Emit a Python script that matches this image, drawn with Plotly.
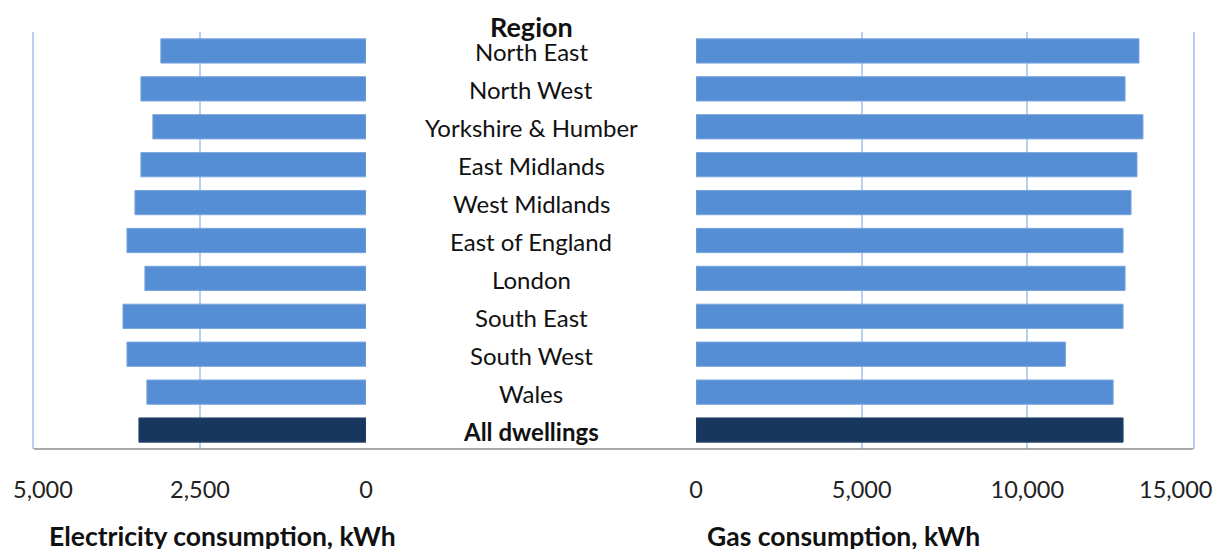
import plotly.graph_objects as go

regions = ["North East", "North West", "Yorkshire & Humber", "East Midlands",
           "West Midlands", "East of England", "London", "South East",
           "South West", "Wales", "All dwellings"]
electricity = [3090, 3390, 3210, 3390, 3480, 3600, 3330, 3660, 3600, 3300, 3420]
gas = [13370, 12950, 13490, 13310, 13130, 12890, 12950, 12890, 11150, 12590, 12890]

elec_ticks = [2500, 0]
gas_ticks = [0, 5000, 10000]
elec_max = 5000
gas_max = 15000

light = "#558ED5"
dark = "#17375E"
colors = [dark if r == "All dwellings" else light for r in regions]
edges = ["#2b4a70" if r == "All dwellings" else "#7aa6de" for r in regions]
grid = "#B9CFF0"
font = "Lato"
tickfont = dict(family=font, size=23.5, color="#222")

# page has an 8px body margin, so the figure is a bit smaller and shifted
OFF = 8
W, H = 1222 - OFF, 549 - OFF


def px(x):
    return (x - OFF) / W


fig = go.Figure()
fig.add_trace(go.Bar(y=regions, x=electricity, orientation="h", xaxis="x", yaxis="y",
                     marker=dict(color=colors, line=dict(color=edges, width=1))))
fig.add_trace(go.Bar(y=regions, x=gas, orientation="h", xaxis="x2", yaxis="y2",
                     marker=dict(color=colors, line=dict(color=edges, width=1))))

axis_common = dict(showgrid=True, gridcolor=grid, gridwidth=1.5, zeroline=False,
                   showline=False, tickformat=",", ticklabelstandoff=24, tickfont=tickfont)
yaxis_common = dict(autorange="reversed", showticklabels=False, showgrid=False, zeroline=False,
                    showline=True, linecolor=grid, linewidth=2)
fig.update_layout(
    width=W, height=H,
    margin=dict(l=0, r=0, t=32 - OFF, b=100, autoexpand=False),
    plot_bgcolor="white", paper_bgcolor="white",
    showlegend=False, bargap=0.36,
    xaxis=dict(domain=[px(34), px(366)], range=[elec_max, 0], tickvals=elec_ticks, **axis_common),
    xaxis2=dict(domain=[px(696), px(1193)], range=[0, gas_max], tickvals=gas_ticks, **axis_common),
    yaxis=dict(anchor="x", side="left", **yaxis_common),
    yaxis2=dict(anchor="x2", side="right", matches="y", **yaxis_common),
)

# outer tick labels, nudged inward like the original so they are not clipped
fig.add_annotation(x=elec_max, xref="x", y=0, yref="paper", yanchor="middle", yshift=-40,
                   xshift=9, text=f"{elec_max:,}", showarrow=False, font=tickfont)
fig.add_annotation(x=gas_max, xref="x2", y=0, yref="paper", yanchor="middle", yshift=-40,
                   xshift=-18, text=f"{gas_max:,}", showarrow=False, font=tickfont)

# region labels in the gap between the panels
for r in regions:
    txt = "<b>%s</b>" % r if r == "All dwellings" else r
    fig.add_annotation(x=px(531), xref="paper", xanchor="center", y=r, yref="y", text=txt,
                       showarrow=False, font=dict(family=font, size=24, color="#111"), yshift=-1)

fig.add_annotation(x=px(531), xref="paper", xanchor="center", y=1, yref="paper", yanchor="middle",
                   yshift=6, text="<b>Region</b>", showarrow=False,
                   font=dict(family=font, size=27, color="#111"))
fig.add_annotation(x=px(222), xref="paper", xanchor="center", y=0, yref="paper", yanchor="middle",
                   yshift=-87, text="<b>Electricity consumption, kWh</b>", showarrow=False,
                   font=dict(family=font, size=26.5, color="#111"))
fig.add_annotation(x=px(843), xref="paper", xanchor="center", y=0, yref="paper", yanchor="middle",
                   yshift=-87, text="<b>Gas consumption, kWh</b>", showarrow=False,
                   font=dict(family=font, size=26.5, color="#111"))

# bottom axis line spanning both panels
fig.add_shape(type="line", xref="paper", yref="paper", x0=px(34), x1=px(1193), y0=0, y1=0,
              line=dict(color="#8C8C8C", width=1.5))

fig.write_html("out.html")
